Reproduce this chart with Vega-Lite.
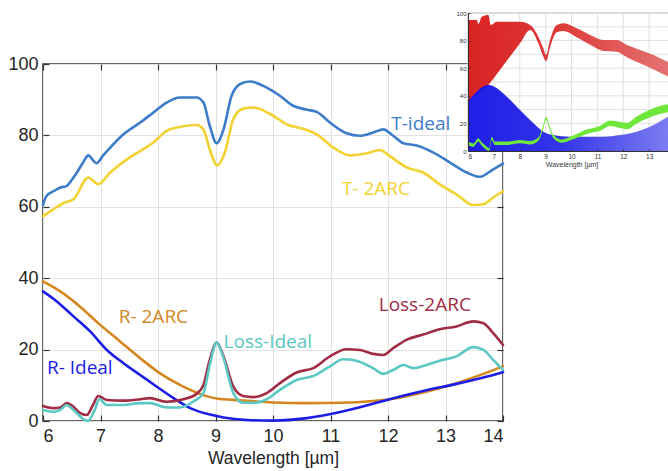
{
  "$schema": "https://vega.github.io/schema/vega-lite/v6.json",
  "width": 460,
  "height": 357,
  "autosize": {"type": "none"},
  "padding": {"left": 43, "top": 64, "right": 165, "bottom": 50},
  "background": "white",
  "config": {
    "view": {"stroke": "#333333", "strokeWidth": 1.5},
    "axis": {"labelFont": "Liberation Sans", "titleFont": "Liberation Sans", "titleFontWeight": "normal"}
  },
  "datasets": {
    "curves": [
      {"series": "T-ideal", "wl": 6.0, "v": 60.5}, {"series": "T-ideal", "wl": 6.06, "v": 63.0}, {"series": "T-ideal", "wl": 6.2, "v": 64.5}, {"series": "T-ideal", "wl": 6.3, "v": 65.4}, {"series": "T-ideal", "wl": 6.41, "v": 65.8}, {"series": "T-ideal", "wl": 6.5, "v": 67.5}, {"series": "T-ideal", "wl": 6.59, "v": 69.6}, {"series": "T-ideal", "wl": 6.7, "v": 72.5}, {"series": "T-ideal", "wl": 6.79, "v": 74.4}, {"series": "T-ideal", "wl": 6.86, "v": 73.2}, {"series": "T-ideal", "wl": 6.93, "v": 72.2}, {"series": "T-ideal", "wl": 7.05, "v": 74.5}, {"series": "T-ideal", "wl": 7.17, "v": 76.6}, {"series": "T-ideal", "wl": 7.4, "v": 80.3}, {"series": "T-ideal", "wl": 7.69, "v": 83.6}, {"series": "T-ideal", "wl": 7.92, "v": 86.4}, {"series": "T-ideal", "wl": 8.15, "v": 89.2}, {"series": "T-ideal", "wl": 8.38, "v": 90.6}, {"series": "T-ideal", "wl": 8.67, "v": 90.6}, {"series": "T-ideal", "wl": 8.79, "v": 89.2}, {"series": "T-ideal", "wl": 8.9, "v": 82.7}, {"series": "T-ideal", "wl": 9.02, "v": 77.8}, {"series": "T-ideal", "wl": 9.14, "v": 81.7}, {"series": "T-ideal", "wl": 9.28, "v": 91.1}, {"series": "T-ideal", "wl": 9.43, "v": 94.4}, {"series": "T-ideal", "wl": 9.6, "v": 95.1}, {"series": "T-ideal", "wl": 9.89, "v": 93.4}, {"series": "T-ideal", "wl": 10.12, "v": 91.1}, {"series": "T-ideal", "wl": 10.35, "v": 88.3}, {"series": "T-ideal", "wl": 10.59, "v": 87.2}, {"series": "T-ideal", "wl": 10.76, "v": 86.6}, {"series": "T-ideal", "wl": 10.99, "v": 83.6}, {"series": "T-ideal", "wl": 11.28, "v": 80.6}, {"series": "T-ideal", "wl": 11.51, "v": 79.9}, {"series": "T-ideal", "wl": 11.74, "v": 80.8}, {"series": "T-ideal", "wl": 11.92, "v": 81.7}, {"series": "T-ideal", "wl": 12.09, "v": 79.9}, {"series": "T-ideal", "wl": 12.27, "v": 77.8}, {"series": "T-ideal", "wl": 12.5, "v": 77.2}, {"series": "T-ideal", "wl": 12.79, "v": 75.2}, {"series": "T-ideal", "wl": 13.08, "v": 72.4}, {"series": "T-ideal", "wl": 13.37, "v": 69.6}, {"series": "T-ideal", "wl": 13.6, "v": 68.4}, {"series": "T-ideal", "wl": 13.83, "v": 70.5}, {"series": "T-ideal", "wl": 14.0, "v": 72.1},

      {"series": "T-2ARC", "wl": 6.0, "v": 57.4}, {"series": "T-2ARC", "wl": 6.18, "v": 59.3}, {"series": "T-2ARC", "wl": 6.35, "v": 61.0}, {"series": "T-2ARC", "wl": 6.53, "v": 62.1}, {"series": "T-2ARC", "wl": 6.79, "v": 68.2}, {"series": "T-2ARC", "wl": 6.96, "v": 66.3}, {"series": "T-2ARC", "wl": 7.17, "v": 69.6}, {"series": "T-2ARC", "wl": 7.46, "v": 73.3}, {"series": "T-2ARC", "wl": 7.69, "v": 75.6}, {"series": "T-2ARC", "wl": 7.92, "v": 78.0}, {"series": "T-2ARC", "wl": 8.15, "v": 81.3}, {"series": "T-2ARC", "wl": 8.33, "v": 82.2}, {"series": "T-2ARC", "wl": 8.67, "v": 82.9}, {"series": "T-2ARC", "wl": 8.79, "v": 81.7}, {"series": "T-2ARC", "wl": 8.9, "v": 76.1}, {"series": "T-2ARC", "wl": 9.03, "v": 71.6}, {"series": "T-2ARC", "wl": 9.17, "v": 75.6}, {"series": "T-2ARC", "wl": 9.31, "v": 84.6}, {"series": "T-2ARC", "wl": 9.48, "v": 87.5}, {"series": "T-2ARC", "wl": 9.66, "v": 87.8}, {"series": "T-2ARC", "wl": 9.95, "v": 86.0}, {"series": "T-2ARC", "wl": 10.24, "v": 83.1}, {"series": "T-2ARC", "wl": 10.59, "v": 81.5}, {"series": "T-2ARC", "wl": 10.76, "v": 80.3}, {"series": "T-2ARC", "wl": 11.05, "v": 76.6}, {"series": "T-2ARC", "wl": 11.34, "v": 74.4}, {"series": "T-2ARC", "wl": 11.63, "v": 75.0}, {"series": "T-2ARC", "wl": 11.86, "v": 75.9}, {"series": "T-2ARC", "wl": 12.03, "v": 74.2}, {"series": "T-2ARC", "wl": 12.33, "v": 71.0}, {"series": "T-2ARC", "wl": 12.61, "v": 69.6}, {"series": "T-2ARC", "wl": 12.9, "v": 66.3}, {"series": "T-2ARC", "wl": 13.19, "v": 63.5}, {"series": "T-2ARC", "wl": 13.48, "v": 60.5}, {"series": "T-2ARC", "wl": 13.66, "v": 60.7}, {"series": "T-2ARC", "wl": 13.83, "v": 62.6}, {"series": "T-2ARC", "wl": 14.0, "v": 64.3},

      {"series": "R-2ARC", "wl": 6.0, "v": 39.1}, {"series": "R-2ARC", "wl": 6.3, "v": 36.3}, {"series": "R-2ARC", "wl": 6.64, "v": 32.1}, {"series": "R-2ARC", "wl": 6.99, "v": 27.0}, {"series": "R-2ARC", "wl": 7.34, "v": 22.3}, {"series": "R-2ARC", "wl": 7.69, "v": 17.6}, {"series": "R-2ARC", "wl": 8.03, "v": 13.4}, {"series": "R-2ARC", "wl": 8.38, "v": 10.1}, {"series": "R-2ARC", "wl": 8.73, "v": 7.6}, {"series": "R-2ARC", "wl": 9.02, "v": 6.3}, {"series": "R-2ARC", "wl": 9.43, "v": 5.8}, {"series": "R-2ARC", "wl": 10.0, "v": 5.2}, {"series": "R-2ARC", "wl": 10.59, "v": 5.0}, {"series": "R-2ARC", "wl": 11.17, "v": 5.1}, {"series": "R-2ARC", "wl": 11.74, "v": 5.6}, {"series": "R-2ARC", "wl": 12.03, "v": 6.1}, {"series": "R-2ARC", "wl": 12.61, "v": 8.0}, {"series": "R-2ARC", "wl": 13.19, "v": 10.6}, {"series": "R-2ARC", "wl": 13.66, "v": 13.2}, {"series": "R-2ARC", "wl": 14.0, "v": 15.3},

      {"series": "R-Ideal", "wl": 6.0, "v": 36.3}, {"series": "R-Ideal", "wl": 6.24, "v": 33.5}, {"series": "R-Ideal", "wl": 6.53, "v": 29.3}, {"series": "R-Ideal", "wl": 6.82, "v": 25.1}, {"series": "R-Ideal", "wl": 7.11, "v": 19.9}, {"series": "R-Ideal", "wl": 7.4, "v": 16.2}, {"series": "R-Ideal", "wl": 7.69, "v": 12.9}, {"series": "R-Ideal", "wl": 7.98, "v": 9.6}, {"series": "R-Ideal", "wl": 8.27, "v": 6.4}, {"series": "R-Ideal", "wl": 8.56, "v": 3.6}, {"series": "R-Ideal", "wl": 8.85, "v": 2.0}, {"series": "R-Ideal", "wl": 9.14, "v": 1.0}, {"series": "R-Ideal", "wl": 9.54, "v": 0.3}, {"series": "R-Ideal", "wl": 10.0, "v": 0.1}, {"series": "R-Ideal", "wl": 10.59, "v": 0.8}, {"series": "R-Ideal", "wl": 11.17, "v": 2.5}, {"series": "R-Ideal", "wl": 11.74, "v": 4.8}, {"series": "R-Ideal", "wl": 12.03, "v": 6.1}, {"series": "R-Ideal", "wl": 12.61, "v": 8.4}, {"series": "R-Ideal", "wl": 13.19, "v": 10.4}, {"series": "R-Ideal", "wl": 13.66, "v": 12.2}, {"series": "R-Ideal", "wl": 14.0, "v": 13.7},

      {"series": "Loss-2ARC", "wl": 6.0, "v": 4.2}, {"series": "Loss-2ARC", "wl": 6.18, "v": 3.6}, {"series": "Loss-2ARC", "wl": 6.3, "v": 3.8}, {"series": "Loss-2ARC", "wl": 6.41, "v": 5.0}, {"series": "Loss-2ARC", "wl": 6.53, "v": 4.0}, {"series": "Loss-2ARC", "wl": 6.64, "v": 2.3}, {"series": "Loss-2ARC", "wl": 6.76, "v": 1.7}, {"series": "Loss-2ARC", "wl": 6.87, "v": 4.5}, {"series": "Loss-2ARC", "wl": 6.96, "v": 7.0}, {"series": "Loss-2ARC", "wl": 7.11, "v": 5.9}, {"series": "Loss-2ARC", "wl": 7.4, "v": 5.7}, {"series": "Loss-2ARC", "wl": 7.69, "v": 6.1}, {"series": "Loss-2ARC", "wl": 7.86, "v": 6.4}, {"series": "Loss-2ARC", "wl": 8.15, "v": 5.4}, {"series": "Loss-2ARC", "wl": 8.44, "v": 6.1}, {"series": "Loss-2ARC", "wl": 8.67, "v": 7.6}, {"series": "Loss-2ARC", "wl": 8.79, "v": 10.1}, {"series": "Loss-2ARC", "wl": 8.9, "v": 17.1}, {"series": "Loss-2ARC", "wl": 9.02, "v": 22.0}, {"series": "Loss-2ARC", "wl": 9.14, "v": 18.1}, {"series": "Loss-2ARC", "wl": 9.31, "v": 9.6}, {"series": "Loss-2ARC", "wl": 9.48, "v": 7.0}, {"series": "Loss-2ARC", "wl": 9.66, "v": 6.7}, {"series": "Loss-2ARC", "wl": 9.89, "v": 7.8}, {"series": "Loss-2ARC", "wl": 10.12, "v": 10.6}, {"series": "Loss-2ARC", "wl": 10.41, "v": 13.6}, {"series": "Loss-2ARC", "wl": 10.7, "v": 14.8}, {"series": "Loss-2ARC", "wl": 10.99, "v": 18.1}, {"series": "Loss-2ARC", "wl": 11.28, "v": 20.1}, {"series": "Loss-2ARC", "wl": 11.51, "v": 19.9}, {"series": "Loss-2ARC", "wl": 11.74, "v": 18.8}, {"series": "Loss-2ARC", "wl": 11.92, "v": 18.5}, {"series": "Loss-2ARC", "wl": 12.09, "v": 20.4}, {"series": "Loss-2ARC", "wl": 12.33, "v": 22.8}, {"series": "Loss-2ARC", "wl": 12.61, "v": 24.2}, {"series": "Loss-2ARC", "wl": 12.9, "v": 25.7}, {"series": "Loss-2ARC", "wl": 13.19, "v": 26.5}, {"series": "Loss-2ARC", "wl": 13.48, "v": 27.9}, {"series": "Loss-2ARC", "wl": 13.66, "v": 27.4}, {"series": "Loss-2ARC", "wl": 13.83, "v": 24.6}, {"series": "Loss-2ARC", "wl": 14.0, "v": 21.3},

      {"series": "Loss-Ideal", "wl": 6.0, "v": 3.1}, {"series": "Loss-Ideal", "wl": 6.18, "v": 2.6}, {"series": "Loss-Ideal", "wl": 6.3, "v": 3.1}, {"series": "Loss-Ideal", "wl": 6.41, "v": 4.5}, {"series": "Loss-Ideal", "wl": 6.53, "v": 3.1}, {"series": "Loss-Ideal", "wl": 6.69, "v": 0.7}, {"series": "Loss-Ideal", "wl": 6.78, "v": 0.0}, {"series": "Loss-Ideal", "wl": 6.9, "v": 3.1}, {"series": "Loss-Ideal", "wl": 6.98, "v": 6.1}, {"series": "Loss-Ideal", "wl": 7.11, "v": 4.5}, {"series": "Loss-Ideal", "wl": 7.4, "v": 4.5}, {"series": "Loss-Ideal", "wl": 7.69, "v": 5.0}, {"series": "Loss-Ideal", "wl": 7.86, "v": 5.0}, {"series": "Loss-Ideal", "wl": 8.15, "v": 3.8}, {"series": "Loss-Ideal", "wl": 8.38, "v": 3.8}, {"series": "Loss-Ideal", "wl": 8.61, "v": 5.4}, {"series": "Loss-Ideal", "wl": 8.79, "v": 7.8}, {"series": "Loss-Ideal", "wl": 8.9, "v": 15.7}, {"series": "Loss-Ideal", "wl": 9.02, "v": 22.0}, {"series": "Loss-Ideal", "wl": 9.14, "v": 17.6}, {"series": "Loss-Ideal", "wl": 9.31, "v": 7.8}, {"series": "Loss-Ideal", "wl": 9.48, "v": 5.1}, {"series": "Loss-Ideal", "wl": 9.66, "v": 5.1}, {"series": "Loss-Ideal", "wl": 9.89, "v": 6.1}, {"series": "Loss-Ideal", "wl": 10.12, "v": 8.7}, {"series": "Loss-Ideal", "wl": 10.41, "v": 11.5}, {"series": "Loss-Ideal", "wl": 10.7, "v": 12.6}, {"series": "Loss-Ideal", "wl": 10.99, "v": 15.3}, {"series": "Loss-Ideal", "wl": 11.22, "v": 17.3}, {"series": "Loss-Ideal", "wl": 11.45, "v": 16.9}, {"series": "Loss-Ideal", "wl": 11.74, "v": 14.8}, {"series": "Loss-Ideal", "wl": 11.92, "v": 13.2}, {"series": "Loss-Ideal", "wl": 12.09, "v": 14.3}, {"series": "Loss-Ideal", "wl": 12.27, "v": 15.7}, {"series": "Loss-Ideal", "wl": 12.44, "v": 14.8}, {"series": "Loss-Ideal", "wl": 12.67, "v": 15.7}, {"series": "Loss-Ideal", "wl": 12.9, "v": 16.9}, {"series": "Loss-Ideal", "wl": 13.19, "v": 18.1}, {"series": "Loss-Ideal", "wl": 13.48, "v": 20.7}, {"series": "Loss-Ideal", "wl": 13.66, "v": 19.9}, {"series": "Loss-Ideal", "wl": 13.83, "v": 17.1}, {"series": "Loss-Ideal", "wl": 14.0, "v": 14.3}
    ],
    "labels": [
      {"series": "T-ideal", "text": "T-ideal", "wl": 12.57, "v": 83.1},
      {"series": "T-2ARC", "text": "T- 2ARC", "wl": 11.79, "v": 64.9},
      {"series": "R-2ARC", "text": "R- 2ARC", "wl": 7.92, "v": 29.2},
      {"series": "Loss-Ideal", "text": "Loss-Ideal", "wl": 9.91, "v": 22.2},
      {"series": "R-Ideal", "text": "R- Ideal", "wl": 6.64, "v": 14.9},
      {"series": "Loss-2ARC", "text": "Loss-2ARC", "wl": 12.64, "v": 32.6}
    ],
    "insetBox": [{"x1": 6, "x2": 14, "y1": 0, "y2": 100}],
    "insetGridX": [{"g": 6}, {"g": 7}, {"g": 8}, {"g": 9}, {"g": 10}, {"g": 11}, {"g": 12}, {"g": 13}, {"g": 14}],
    "insetGridY": [{"g": 10}, {"g": 20}, {"g": 30}, {"g": 40}, {"g": 50}, {"g": 60}, {"g": 70}, {"g": 80}, {"g": 90}, {"g": 100}],
    "insetT": [
      {"wl": 6.0, "lo": 35.7, "hi": 94.9}, {"wl": 6.34, "lo": 40.9, "hi": 94.9}, {"wl": 6.4, "lo": 41.8, "hi": 92.0}, {"wl": 6.53, "lo": 43.8, "hi": 97.3}, {"wl": 6.79, "lo": 47.8, "hi": 98.6}, {"wl": 6.88, "lo": 50.0, "hi": 91.3}, {"wl": 7.11, "lo": 55.7, "hi": 93.7}, {"wl": 7.5, "lo": 65.4, "hi": 93.7}, {"wl": 8.01, "lo": 78.0, "hi": 93.7}, {"wl": 8.4, "lo": 87.7, "hi": 91.3}, {"wl": 8.72, "lo": 78.0, "hi": 82.8}, {"wl": 8.91, "lo": 68.5, "hi": 74.4}, {"wl": 9.02, "lo": 65.0, "hi": 69.6}, {"wl": 9.17, "lo": 75.0, "hi": 80.4}, {"wl": 9.43, "lo": 86.0, "hi": 91.3}, {"wl": 9.69, "lo": 87.0, "hi": 92.5}, {"wl": 10.2, "lo": 82.5, "hi": 88.9}, {"wl": 10.72, "lo": 77.0, "hi": 84.1}, {"wl": 11.23, "lo": 72.5, "hi": 80.4}, {"wl": 11.75, "lo": 72.0, "hi": 80.4}, {"wl": 12.14, "lo": 68.0, "hi": 76.8}, {"wl": 12.65, "lo": 63.5, "hi": 73.2}, {"wl": 13.17, "lo": 59.0, "hi": 69.6}, {"wl": 13.73, "lo": 54.0, "hi": 64.7}, {"wl": 14.0, "lo": 52.0, "hi": 63.0}
    ],
    "insetR": [
      {"wl": 6.0, "lo": 0, "hi": 35.7}, {"wl": 6.79, "lo": 0, "hi": 47.8}, {"wl": 7.5, "lo": 0, "hi": 39.4}, {"wl": 8.01, "lo": 0, "hi": 29.7}, {"wl": 8.53, "lo": 0, "hi": 20.1}, {"wl": 8.91, "lo": 0, "hi": 14.0}, {"wl": 9.3, "lo": 0, "hi": 11.6}, {"wl": 9.94, "lo": 0, "hi": 10.4}, {"wl": 11.23, "lo": 0, "hi": 10.4}, {"wl": 11.88, "lo": 0, "hi": 11.6}, {"wl": 12.52, "lo": 0, "hi": 14.0}, {"wl": 13.17, "lo": 0, "hi": 18.8}, {"wl": 13.73, "lo": 0, "hi": 24.9}, {"wl": 14.0, "lo": 0, "hi": 27.0}
    ],
    "insetL": [
      {"wl": 6.0, "lo": 4.4, "hi": 6.8}, {"wl": 6.21, "lo": 3.1, "hi": 5.5}, {"wl": 6.4, "lo": 6.8, "hi": 9.2}, {"wl": 6.53, "lo": 3.9, "hi": 6.3}, {"wl": 6.72, "lo": 0.8, "hi": 3.2}, {"wl": 6.81, "lo": 0.0, "hi": 1.9}, {"wl": 6.92, "lo": 8.0, "hi": 10.4}, {"wl": 7.04, "lo": 4.4, "hi": 6.8}, {"wl": 7.5, "lo": 4.4, "hi": 6.8}, {"wl": 8.01, "lo": 5.6, "hi": 8.0}, {"wl": 8.4, "lo": 4.8, "hi": 7.2}, {"wl": 8.72, "lo": 7.3, "hi": 9.7}, {"wl": 8.89, "lo": 15.2, "hi": 17.6}, {"wl": 9.02, "lo": 22.5, "hi": 24.9}, {"wl": 9.14, "lo": 16.4, "hi": 18.8}, {"wl": 9.3, "lo": 9.2, "hi": 11.6}, {"wl": 9.62, "lo": 6.0, "hi": 8.4}, {"wl": 10.07, "lo": 8.5, "hi": 11.3}, {"wl": 10.59, "lo": 12.4, "hi": 15.6}, {"wl": 11.1, "lo": 14.6, "hi": 18.2}, {"wl": 11.49, "lo": 18.1, "hi": 22.1}, {"wl": 11.88, "lo": 16.6, "hi": 21.0}, {"wl": 12.14, "lo": 15.8, "hi": 20.4}, {"wl": 12.52, "lo": 20.0, "hi": 25.0}, {"wl": 13.04, "lo": 24.5, "hi": 30.1}, {"wl": 13.73, "lo": 28.0, "hi": 33.8}, {"wl": 14.0, "lo": 28.6, "hi": 34.4}
    ]
  },
  "layer": [
    {
      "layer": [
        {
          "data": {"name": "curves"},
          "mark": {"type": "line", "interpolate": "monotone", "strokeCap": "round", "strokeJoin": "round"},
          "encoding": {
            "x": {"field": "wl", "type": "quantitative", "scale": {"domain": [6, 14], "nice": false},
              "axis": {"orient": "bottom", "values": [6, 7, 8, 9, 10, 11, 12, 13, 14], "grid": true, "gridColor": "#e2e2e2", "domain": false,
                "tickSize": -6, "tickColor": "#333333", "tickWidth": 1.2, "labelFontSize": 18, "labelColor": "#262626", "labelPadding": 12,
                "title": "Wavelength [µm]", "titleFontSize": 17.5, "titleColor": "#262626", "titlePadding": 4, "zindex": 0}},
            "y": {"field": "v", "type": "quantitative", "scale": {"domain": [0, 100], "nice": false},
              "axis": {"orient": "left", "values": [0, 20, 40, 60, 80, 100], "grid": true, "gridColor": "#e2e2e2", "domain": false,
                "tickSize": -6, "tickColor": "#333333", "tickWidth": 1.2, "labelFontSize": 18, "labelColor": "#262626", "labelPadding": 11,
                "title": null, "zindex": 0}},
            "color": {"field": "series", "type": "nominal", "legend": null,
              "scale": {"domain": ["T-ideal", "T-2ARC", "R-2ARC", "R-Ideal", "Loss-2ARC", "Loss-Ideal"],
                "range": ["#3d7cc9", "#f2d130", "#d4861f", "#1d1de8", "#a02c45", "#5bc8c4"]}},
            "strokeWidth": {"field": "series", "type": "nominal", "legend": null,
              "scale": {"domain": ["T-ideal", "T-2ARC", "R-2ARC", "R-Ideal", "Loss-2ARC", "Loss-Ideal"],
                "range": [2.6, 2.6, 3.4, 3.0, 1.8, 1.8]}}
          }
        },
        {
          "data": {"name": "labels"},
          "mark": {"type": "text", "font": "Open Sans", "fontSize": 19, "align": "center", "baseline": "middle"},
          "encoding": {
            "x": {"field": "wl", "type": "quantitative",
              "axis": {"orient": "top", "values": [6, 7, 8, 9, 10, 11, 12, 13, 14], "labels": false, "grid": false, "domain": false,
                "tickSize": -6, "tickColor": "#333333", "tickWidth": 1.2, "title": null, "zindex": 0}},
            "y": {"field": "v", "type": "quantitative",
              "axis": {"orient": "right", "values": [0, 20, 40, 60, 80, 100], "labels": false, "grid": false, "domain": false,
                "tickSize": -6, "tickColor": "#333333", "tickWidth": 1.2, "title": null, "zindex": 0}},
            "text": {"field": "text"},
            "color": {"field": "series", "type": "nominal", "legend": null}
          }
        }
      ],
      "resolve": {"axis": {"x": "independent", "y": "independent"}}
    },
    {
      "layer": [
        {
          "data": {"name": "insetBox"},
          "mark": {"type": "rect", "fill": "white", "stroke": "#b8b8b8", "strokeWidth": 1},
          "encoding": {
            "x": {"field": "x1", "type": "quantitative", "title": "Wavelength [µm]",
              "scale": {"domain": [6, 14], "range": [425, 632], "nice": false},
              "axis": {"orient": "bottom", "offset": -270, "values": [6, 7, 8, 9, 10, 11, 12, 13], "format": "d", "grid": false,
                "domainColor": "#333333", "tickSize": -2, "tickColor": "#333333", "labelFontSize": 6.5, "labelColor": "#333333",
                "labelPadding": 4, "titleFontSize": 7, "titleColor": "#333333", "titlePadding": 1, "zindex": 1}},
            "x2": {"field": "x2"},
            "y": {"field": "y1", "type": "quantitative", "title": null,
              "scale": {"domain": [0, 100], "range": [87, -51], "nice": false},
              "axis": {"orient": "left", "offset": -425, "values": [0, 10, 20, 30, 40, 50, 60, 70, 80, 90, 100], "format": "d", "grid": false,
                "domainColor": "#333333", "tickSize": -2, "tickColor": "#333333", "labelFontSize": 6, "labelColor": "#333333",
                "labelPadding": 4, "zindex": 1}},
            "y2": {"field": "y2"}
          }
        },
        {
          "data": {"name": "insetGridX"},
          "mark": {"type": "rule", "color": "#d9d9d9", "strokeWidth": 0.8},
          "encoding": {
            "x": {"field": "g", "type": "quantitative", "title": "Wavelength [µm]"},
            "y": {"datum": 0, "type": "quantitative", "title": null},
            "y2": {"datum": 100}
          }
        },
        {
          "data": {"name": "insetGridY"},
          "mark": {"type": "rule", "color": "#d9d9d9", "strokeWidth": 0.8},
          "encoding": {
            "y": {"field": "g", "type": "quantitative", "title": null},
            "x": {"datum": 6, "type": "quantitative", "title": "Wavelength [µm]"},
            "x2": {"datum": 14}
          }
        },
        {
          "data": {"name": "insetT"},
          "mark": {"type": "area", "interpolate": "monotone", "opacity": 0.92,
            "color": {"gradient": "linear", "x1": 0, "x2": 1, "y1": 0, "y2": 0,
              "stops": [{"offset": 0, "color": "#d60f0f"}, {"offset": 0.45, "color": "#dc2a2a"}, {"offset": 1, "color": "#e26a6a"}]}},
          "encoding": {
            "x": {"field": "wl", "type": "quantitative", "title": "Wavelength [µm]"},
            "y": {"field": "lo", "type": "quantitative", "title": null},
            "y2": {"field": "hi"}
          }
        },
        {
          "data": {"name": "insetR"},
          "mark": {"type": "area", "interpolate": "monotone", "opacity": 0.95,
            "color": {"gradient": "linear", "x1": 0, "x2": 1, "y1": 0, "y2": 0,
              "stops": [{"offset": 0, "color": "#1212e6"}, {"offset": 0.45, "color": "#2a2ae8"}, {"offset": 1, "color": "#7a7af2"}]}},
          "encoding": {
            "x": {"field": "wl", "type": "quantitative", "title": "Wavelength [µm]"},
            "y": {"field": "lo", "type": "quantitative", "title": null},
            "y2": {"field": "hi"}
          }
        },
        {
          "data": {"name": "insetL"},
          "mark": {"type": "area", "interpolate": "monotone", "color": "#6fe83c"},
          "encoding": {
            "x": {"field": "wl", "type": "quantitative", "title": "Wavelength [µm]"},
            "y": {"field": "lo", "type": "quantitative", "title": null},
            "y2": {"field": "hi"}
          }
        }
      ]
    }
  ],
  "resolve": {"scale": {"x": "independent", "y": "independent", "color": "independent"}, "axis": {"x": "independent", "y": "independent"}}
}
